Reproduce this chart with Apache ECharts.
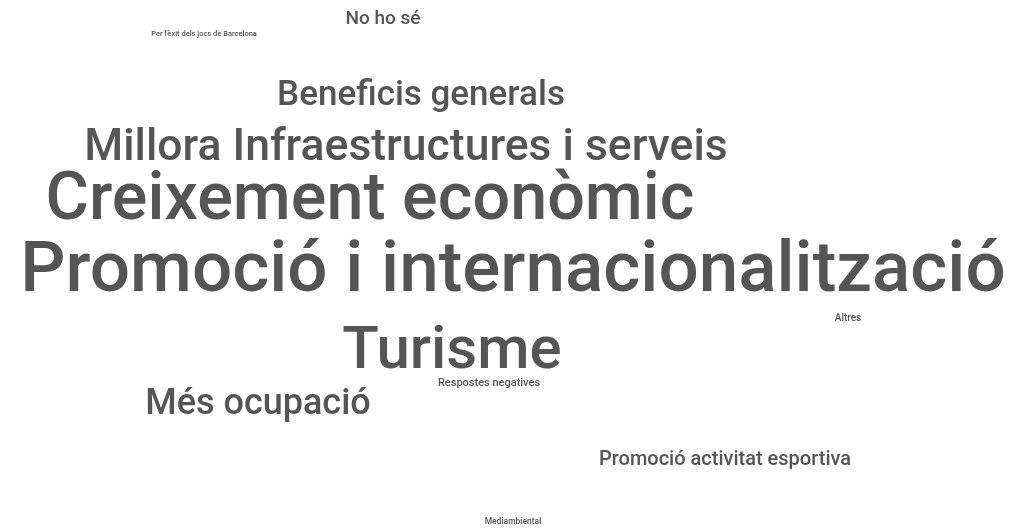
<!DOCTYPE html>
<html>
<head>
<meta charset="utf-8">
<script src="https://cdn.jsdelivr.net/npm/echarts@6/dist/echarts.min.js"></script>
<style>
  html, body { margin: 0; padding: 0; background: #fff; }
  #chart { width: 1036px; height: 532px; }
</style>
</head>
<body>
<div id="chart"></div>
<script>
// words of the cloud and their weight (larger weight -> larger text)
const words = [
  'Promoció i internacionalització',
  'Creixement econòmic',
  'Turisme',
  'Millora Infraestructures i serveis',
  'Més ocupació',
  'Beneficis generals',
  'Promoció activitat esportiva',
  'No ho sé',
  'Mediambiental',
  'Respostes negatives',
  'Altres',
  "Per l'èxit dels jocs de Barcelona"
];
const weights = [71, 66.5, 60, 44.5, 36, 35, 20, 19, 8.5, 11, 10, 7.5];
// where each word landed in the cloud (centre, in a 1036 x 532 layout space)
const cloudX = [513, 370, 452, 406, 258, 421, 725, 383, 513, 489, 848, 204];
const cloudY = [273, 202, 353, 149, 405, 96, 460, 19, 522, 383, 318, 34];

const chart = echarts.init(document.getElementById('chart'));

const fontSizeFor = w => w;

chart.setOption({
  animation: false,
  grid: { left: 0, right: 0, top: 0, bottom: 0 },
  xAxis: { type: 'value', min: 0, max: 1036, show: false },
  yAxis: { type: 'value', min: 0, max: 532, inverse: true, show: false },
  series: [{
    type: 'scatter',
    symbolSize: 0,
    itemStyle: { opacity: 1 },
    data: words.map((w, i) => ({
      name: w,
      value: [cloudX[i], cloudY[i]],
      label: { fontSize: fontSizeFor(weights[i]) }
    })),
    label: {
      show: true,
      position: 'inside',
      formatter: p => p.name,
      color: '#555555',
      fontFamily: 'Roboto',
      fontWeight: 500,
      align: 'center',
      verticalAlign: 'middle'
    }
  }]
});
</script>
</body>
</html>
